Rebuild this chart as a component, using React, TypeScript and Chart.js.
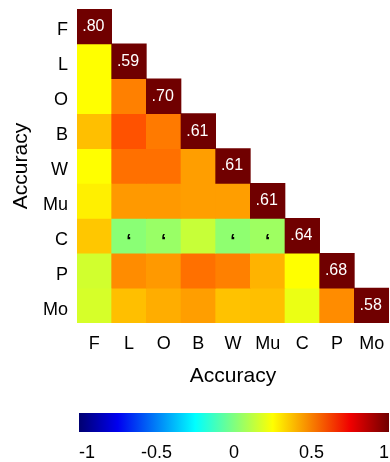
import React, { useEffect, useRef } from "react";
import { Chart, registerables } from "chart.js";
Chart.register(...registerables);

const variables = ["F", "L", "O", "B", "W", "Mu", "C", "P", "Mo"];
const reliabilities = [0.8, 0.59, 0.7, 0.61, 0.61, 0.61, 0.64, 0.68, 0.58];
const rowF: number[] = [];
const rowL = [0.25];
const rowO = [0.25, 0.5];
const rowB = [0.375, 0.59, 0.51];
const rowW = [0.25, 0.53, 0.53, 0.44];
const rowMu = [0.28, 0.45, 0.45, 0.44, 0.44];
const rowC = [0.36, 0.02, 0.05, 0.14, 0.03, 0.06];
const rowP = [0.16, 0.475, 0.45, 0.53, 0.5, 0.4, 0.25];
const rowMo = [0.17, 0.375, 0.41, 0.44, 0.37, 0.375, 0.21, 0.475];
const correlations = [rowF, rowL, rowO, rowB, rowW, rowMu, rowC, rowP, rowMo];
const markedCells = [
  [6, 1],
  [6, 2],
  [6, 4],
  [6, 5],
];
const colorbarTicks = [-1, -0.5, 0, 0.5, 1];
const axisTitle = "Accuracy";

const FONT = "'Liberation Sans', Arial, sans-serif";

function clamp(x: number) {
  return Math.max(0, Math.min(1, x));
}
function jetRGB(v: number) {
  const t = (v + 1) / 2;
  const r = clamp(Math.min(4 * t - 1.5, -4 * t + 4.44));
  const g = clamp(Math.min(4 * t - 0.5, -4 * t + 3.5));
  const b = clamp(Math.min(4 * t + 0.44, -4 * t + 2.5));
  return [Math.round(r * 255), Math.round(g * 255), Math.round(b * 255)];
}
function jet(v: number) {
  const [r, g, b] = jetRGB(v);
  return `rgb(${r},${g},${b})`;
}
function fmt(v: number) {
  return v.toFixed(2).replace(/^0/, "");
}

const cellText = {
  id: "cellText",
  afterDatasetsDraw(chart: any) {
    const ctx = chart.ctx;
    ctx.save();
    ctx.textAlign = "center";
    reliabilities.forEach((rel, i) => {
      const el = chart.getDatasetMeta(i).data[i];
      if (!el) return;
      const p = el.getProps(["x", "y", "base"], true);
      const cy = (p.y + p.base) / 2;
      ctx.fillStyle = "#ffffff";
      ctx.font = `16px ${FONT}`;
      ctx.textBaseline = "middle";
      ctx.fillText(fmt(rel), p.x - 1, cy);
    });
    markedCells.forEach(([r, c]) => {
      const el = chart.getDatasetMeta(r).data[c];
      if (!el) return;
      const p = el.getProps(["x", "y", "base"], true);
      const cy = (p.y + p.base) / 2;
      ctx.fillStyle = "#000000";
      ctx.font = `bold 19px ${FONT}`;
      ctx.textBaseline = "alphabetic";
      ctx.fillText("\u2018", p.x, cy + 11);
    });
    ctx.restore();
  },
};

const gradientPlugin = {
  id: "jetGradient",
  beforeDatasetsDraw(chart: any) {
    const { ctx, chartArea } = chart;
    const { left, right, top, bottom } = chartArea;
    const grad = ctx.createLinearGradient(left, 0, right, 0);
    const stops = [0, 0.125, 0.375, 0.625, 0.875, 1];
    stops.forEach((t) => grad.addColorStop(t, jet(t * 2 - 1)));
    ctx.save();
    ctx.fillStyle = grad;
    ctx.fillRect(left, top, right - left, bottom - top);
    ctx.restore();
  },
};

export default function App() {
  const mainRef = useRef<HTMLCanvasElement>(null);
  const barRef = useRef<HTMLCanvasElement>(null);

  useEffect(() => {
    const datasets = variables.map((_, i) => ({
      label: variables[i],
      data: variables.map((__, j) => (j <= i ? [i - 0.5, i + 0.5] : null)),
      backgroundColor: variables.map((__, j) =>
        j < i ? jet(correlations[i][j]) : j === i ? jet(1) : "rgba(0,0,0,0)"
      ),
      borderWidth: 0,
      barPercentage: 1,
      categoryPercentage: 1,
      grouped: false,
    }));

    const main = new Chart(mainRef.current!, {
      type: "bar",
      data: { labels: variables, datasets: datasets as any },
      options: {
        animation: false,
        responsive: false,
        events: [],
        layout: { padding: { top: 9, right: 1, left: 0, bottom: 0 } },
        plugins: { legend: { display: false }, tooltip: { enabled: false } },
        scales: {
          x: {
            type: "category",
            grid: { display: false, drawTicks: false },
            border: { display: false },
            ticks: { color: "#000", font: { family: FONT, size: 18 }, padding: 10, maxRotation: 0, autoSkip: false },
            title: { display: true, text: axisTitle, color: "#000", font: { family: FONT, size: 21 }, padding: { top: 0, bottom: 1 } },
            afterFit(scale: any) {
              scale.height = 67;
              scale.paddingLeft = 0;
              scale.paddingRight = 0;
            },
          },
          y: {
            type: "linear",
            min: -0.5,
            max: 8.5,
            reverse: true,
            grid: { display: false, drawTicks: false },
            border: { display: false },
            afterBuildTicks(scale: any) {
              scale.ticks = variables.map((_, i) => ({ value: i }));
            },
            ticks: {
              color: "#000",
              font: { family: FONT, size: 18 },
              padding: 9,
              labelOffset: 4,
              autoSkip: false,
              callback: (v: any) => variables[Number(v)] ?? "",
            },
            title: { display: true, text: axisTitle, color: "#000", font: { family: FONT, size: 21 }, padding: { top: 9, bottom: 0 } },
            afterFit(scale: any) {
              scale.width = 77;
              scale.paddingTop = 0;
              scale.paddingBottom = 0;
            },
          },
        },
      },
      plugins: [cellText],
    });

    const bar = new Chart(barRef.current!, {
      type: "scatter",
      data: { datasets: [{ data: [] }] },
      options: {
        animation: false,
        responsive: false,
        events: [],
        layout: { padding: { top: 13, left: 79, right: 1, bottom: 0 } },
        plugins: { legend: { display: false }, tooltip: { enabled: false } },
        scales: {
          x: {
            type: "linear",
            min: -1,
            max: 1,
            grid: { display: false, drawTicks: false },
            border: { display: false },
            afterBuildTicks(scale: any) {
              scale.ticks = colorbarTicks.map((v) => ({ value: v }));
            },
            ticks: {
              color: "#000",
              font: { family: FONT, size: 18 },
              padding: 10,
              align: "inner",
              callback: (v: any) => String(v),
            },
            afterFit(scale: any) {
              scale.height = 30;
              scale.paddingLeft = 0;
              scale.paddingRight = 0;
            },
          },
          y: { display: false, min: 0, max: 1 },
        },
      },
      plugins: [gradientPlugin],
    });

    return () => {
      main.destroy();
      bar.destroy();
    };
  }, []);

  return (
    <div style={{ position: "absolute", left: 0, top: 0, width: 390, height: 462, background: "#fff" }}>
      <canvas ref={mainRef} width={390} height={390} style={{ position: "absolute", left: 0, top: 0, width: 390, height: 390 }} />
      <canvas ref={barRef} width={390} height={62} style={{ position: "absolute", left: 0, top: 400, width: 390, height: 62 }} />
    </div>
  );
}
